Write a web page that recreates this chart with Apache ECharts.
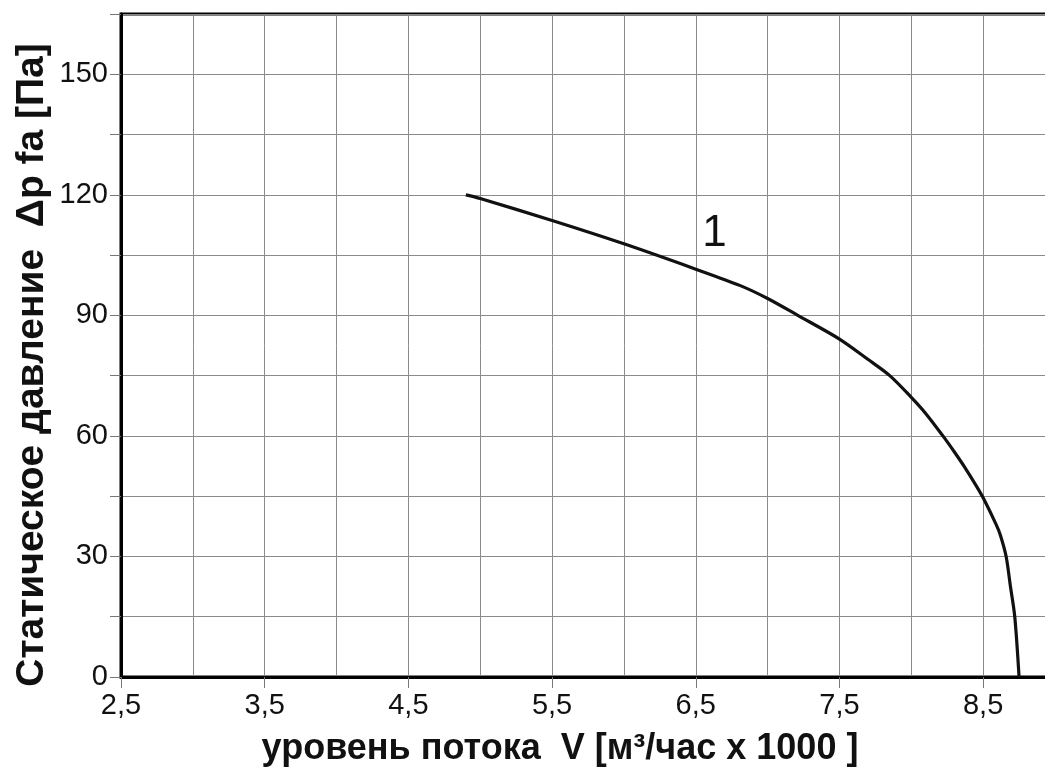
<!DOCTYPE html>
<html>
<head>
<meta charset="utf-8">
<script src="https://cdn.jsdelivr.net/npm/echarts@6/dist/echarts.min.js"></script>
<style>html,body{margin:0;padding:0;background:#fff;overflow:hidden;width:1045px;height:771px}#c{width:1150px;height:771px}</style>
</head>
<body>
<div id="c"></div>
<script>
// Data
const flowX = [4.9, 5.0, 5.5, 6.0, 6.5, 6.81, 7.0, 7.21, 7.5, 7.7, 7.85, 8.0, 8.1, 8.22, 8.3, 8.37, 8.45, 8.5, 8.59, 8.62, 8.66, 8.69, 8.72, 8.75];
const pressureY = [120, 119.1, 113.6, 107.8, 101.5, 97.4, 94.2, 90, 84.1, 79, 75, 69.6, 65.6, 60, 56, 52.3, 47.7, 44.6, 38, 35.3, 30, 22.5, 15, 0];
const curveName = '1';
const curveLabelAt = [6.63, 110.3];
const xTitle = 'уровень потока  V [м³/час x 1000 ]';
const yTitle = 'Статическое давление  Δp fa [Па]';
const xMin = 2.5, xMax = 9.5, xStep = 1;
const yMin = 0, yMax = 165, yStep = 15, yLabelStep = 30;

const FONT = '"Liberation Sans", Arial, sans-serif';
const chart = echarts.init(document.getElementById('c'), null, {renderer: 'canvas'});
const points = flowX.map((x, i) => [x, pressureY[i]]);

chart.setOption({
  animation: false,
  backgroundColor: '#fff',
  grid: {left: 121, top: 14, height: 663, width: 1016, show: true, borderColor: '#000', borderWidth: 3, backgroundColor: 'transparent'},
  xAxis: {
    type: 'value', min: xMin, max: xMax, interval: xStep,
    axisLine: {show: true, lineStyle: {color: '#000', width: 3}},
    axisTick: {show: true, length: 11, inside: false, lineStyle: {color: '#777', width: 1}},
    minorTick: {show: false, splitNumber: 2},
    splitLine: {show: true, lineStyle: {color: '#8a8a8a', width: 1}},
    minorSplitLine: {show: true, lineStyle: {color: '#8a8a8a', width: 1}},
    axisLabel: {margin: 14, fontFamily: FONT, fontSize: 29, color: '#111',
      formatter: v => v.toFixed(1).replace('.', ',')}
  },
  yAxis: {
    type: 'value', min: yMin, max: yMax, interval: yStep,
    axisLine: {show: true, lineStyle: {color: '#000', width: 3}},
    axisTick: {show: true, length: 11, lineStyle: {color: '#777', width: 1}},
    splitLine: {show: true, lineStyle: {color: '#8a8a8a', width: 1}},
    axisLabel: {margin: 13, fontFamily: FONT, fontSize: 29, color: '#111',
      formatter: v => (v % yLabelStep === 0 ? String(v) : '')}
  },
  graphic: [
    {type: 'text', x: 560, y: 749, style: {text: xTitle, font: 'bold 36px ' + FONT, fill: '#111', align: 'center', verticalAlign: 'middle'}},
    {type: 'text', x: 32, y: 365, rotation: Math.PI / 2,
      style: {text: yTitle, font: 'bold 39px ' + FONT, fill: '#111', align: 'center', verticalAlign: 'middle'}}
  ],
  series: [{
    type: 'line', data: points, showSymbol: false, smooth: 0.3,
    lineStyle: {color: '#111', width: 3.2}, clip: true,
    markPoint: {symbol: 'rect', symbolSize: 0, data: [{coord: curveLabelAt}],
      label: {show: true, formatter: curveName, fontFamily: FONT, fontSize: 44, color: '#111', position: 'inside'}}
  }]
});
</script>
</body>
</html>
